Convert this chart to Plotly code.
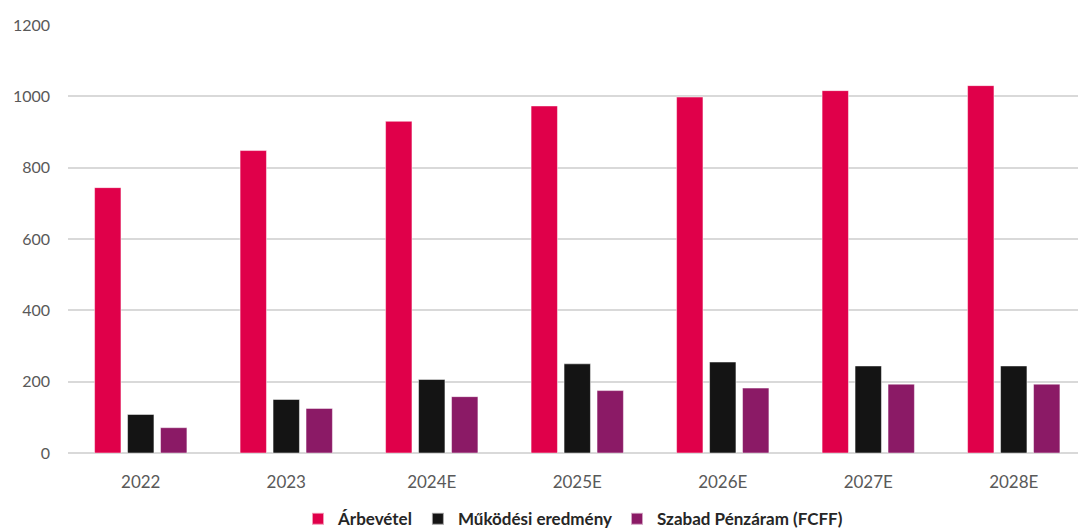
import plotly.graph_objects as go

categories = ["2022", "2023", "2024E", "2025E", "2026E", "2027E", "2028E"]
arbevetel = [744, 848, 930, 973, 998, 1016, 1030]
mukodesi = [108, 150, 206, 250, 255, 244, 244]
fcff = [71, 125, 158, 175, 182, 193, 193]

series_names = ["Árbevétel", "Működési eredmény", "Szabad Pénzáram (FCFF)"]
colors = ["#E0004A", "#141414", "#8B1A66"]

fig = go.Figure()
for name, vals, col in zip(series_names, [arbevetel, mukodesi, fcff], colors):
    fig.add_trace(go.Bar(
        x=categories, y=vals, name=name,
        marker=dict(color=col, line=dict(color="rgba(255,255,255,0.6)", width=0.8)),
    ))

W, H = 1078, 529
left, right_px = 68, 1078
top_px, bottom_px = 24.6, 452.7
spacing = 145.5
ncat_visible = (right_px - left) / spacing

fig.update_layout(
    width=W, height=H,
    margin=dict(l=left, r=W - right_px, t=top_px, b=H - bottom_px, autoexpand=False),
    paper_bgcolor="white", plot_bgcolor="white",
    barmode="group", bargap=0.32, bargroupgap=0.2,
    font=dict(family="Lato, Open Sans, sans-serif", color="#595959"),
    showlegend=True,
    legend=dict(orientation="h", x=0.5, xanchor="center", xref="paper",
                y=-(519 - bottom_px) / (bottom_px - top_px), yanchor="middle",
                font=dict(size=17, color="#262626", family="Lato, sans-serif", weight="bold"),
                itemwidth=30, itemsizing="constant", traceorder="normal"),
    xaxis=dict(type="category", range=[-0.5, -0.5 + ncat_visible],
               showgrid=False, showline=False, zeroline=False,
               tickfont=dict(size=17, color="#595959"), ticklabelstandoff=17),
    yaxis=dict(range=[0, 1200], dtick=200, showgrid=True, gridcolor="#D9D9D9",
               gridwidth=1.5, zeroline=True, zerolinecolor="#D9D9D9", zerolinewidth=1.5,
               showline=False, tickfont=dict(size=16, color="#595959"),
               ticklabelstandoff=17),
)

fig.write_html("out.html")
